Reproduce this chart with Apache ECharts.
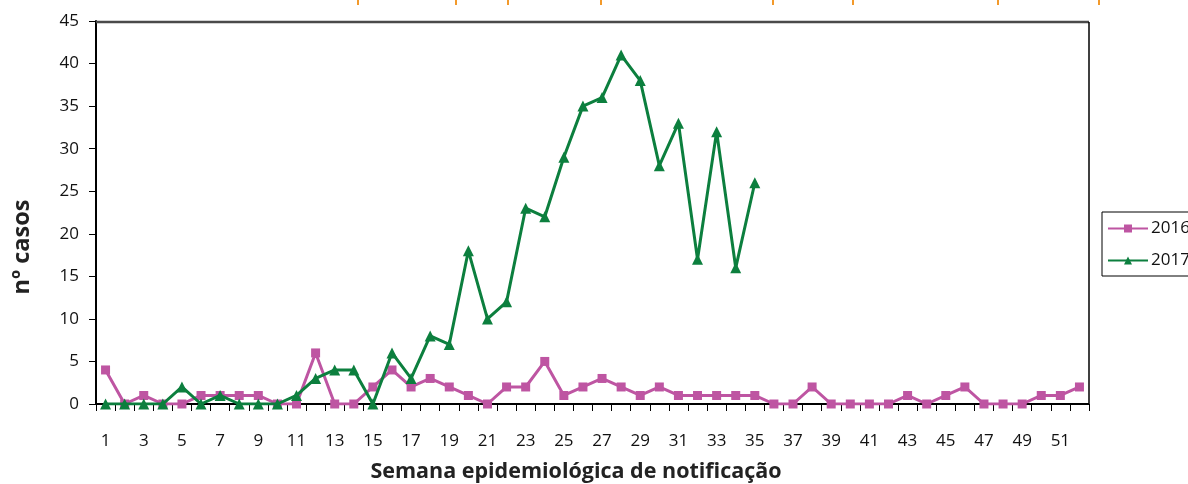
<!DOCTYPE html>
<html>
<head>
<meta charset="utf-8">
<script src="https://cdn.jsdelivr.net/npm/echarts@6/dist/echarts.min.js"></script>
<style>
html,body{margin:0;padding:0;background:#fff;}
#chart{width:1188px;height:484px;}
</style>
</head>
<body>
<div id="chart"></div>
<script>
const weeks = Array.from({length: 52}, (_, i) => String(i + 1));
const cases2016 = [4,0,1,0,0,1,1,1,1,0,0,6,0,0,2,4,2,3,2,1,0,2,2,5,1,2,3,2,1,2,1,1,1,1,1,0,0,2,0,0,0,0,1,0,1,2,0,0,0,1,1,2];
const cases2017 = [0,0,0,0,2,0,1,0,0,0,1,3,4,4,0,6,3,8,7,18,10,12,23,22,29,35,36,41,38,28,33,17,32,16,26];
const seriesNames = ['2016', '2017'];
const yTicks = [0,5,10,15,20,25,30,35,40,45];
const xTitle = 'Semana epidemiológica de notificação';
const yTitle = 'nº casos';

const orangeMarks = [358, 456, 508, 601, 773, 853, 998, 1099];

const chart = echarts.init(document.getElementById('chart'));
const font = '"Open Sans", "Noto Sans", sans-serif';
const option = {
  animation: false,
  backgroundColor: '#ffffff',
  grid: {left: 96, right: 99, top: 21, bottom: 80, show: false},
  legend: {
    orient: 'vertical',
    left: 1102, top: 212,
    padding: [8, 40, 7, 5],
    itemWidth: 40, itemHeight: 10,
    itemGap: 15,
    borderColor: '#000', borderWidth: 1,
    textStyle: {fontFamily: font, fontSize: 17, color: '#111', padding: [0,0,0,-2]},
    data: seriesNames
  },
  xAxis: {
    type: 'category',
    data: weeks,
    boundaryGap: true,
    axisLine: {lineStyle: {color: '#000', width: 2}},
    axisTick: {show: true, length: 7, interval: 0, lineStyle: {color: '#000', width: 1}},
    axisLabel: {interval: 1, margin: 29, fontFamily: font, fontSize: 17, color: '#111'},
    splitLine: {show: false}
  },
  yAxis: {
    type: 'value',
    min: 0, max: 45, interval: 5,
    axisLine: {show: true, lineStyle: {color: '#000', width: 2}},
    axisTick: {show: true, length: 7, lineStyle: {color: '#000', width: 1}},
    axisLabel: {margin: 17, fontFamily: font, fontSize: 17, color: '#111',
      formatter: v => yTicks.includes(v) ? String(v) : ''},
    splitLine: {show: false}
  },
  series: [
    {
      name: seriesNames[0], type: 'line', data: cases2016,
      symbol: 'rect', symbolSize: 9,
      lineStyle: {color: '#BE55A2', width: 3},
      itemStyle: {color: '#BE55A2'},
      z: 3
    },
    {
      name: seriesNames[1], type: 'line', data: cases2017,
      symbol: 'triangle', symbolSize: 11,
      lineStyle: {color: '#0C7F3E', width: 3},
      itemStyle: {color: '#0C7F3E'},
      z: 4
    }
  ],
  graphic: [
    {type: 'line', shape: {x1: 96, y1: 22, x2: 1089, y2: 22}, style: {stroke: '#4a4a4a', lineWidth: 2.5}, z: 10},
    {type: 'line', shape: {x1: 1089, y1: 22, x2: 1089, y2: 403}, style: {stroke: '#000', lineWidth: 1.5}, z: 10},
    {type: 'text', x: 576, y: 472, style: {text: xTitle, font: 'bold 21.5px ' + font, fill: '#222', align: 'center', verticalAlign: 'middle'}},
    {type: 'text', x: 22, y: 247, rotation: Math.PI / 2, style: {text: yTitle, font: 'bold 23.5px ' + font, fill: '#222', align: 'center', verticalAlign: 'middle'}}
  ].concat(orangeMarks.map(x => ({
    type: 'line', shape: {x1: x, y1: 0, x2: x, y2: 5}, style: {stroke: '#F39A2B', lineWidth: 2}
  })))
};
chart.setOption(option);
</script>
</body>
</html>
